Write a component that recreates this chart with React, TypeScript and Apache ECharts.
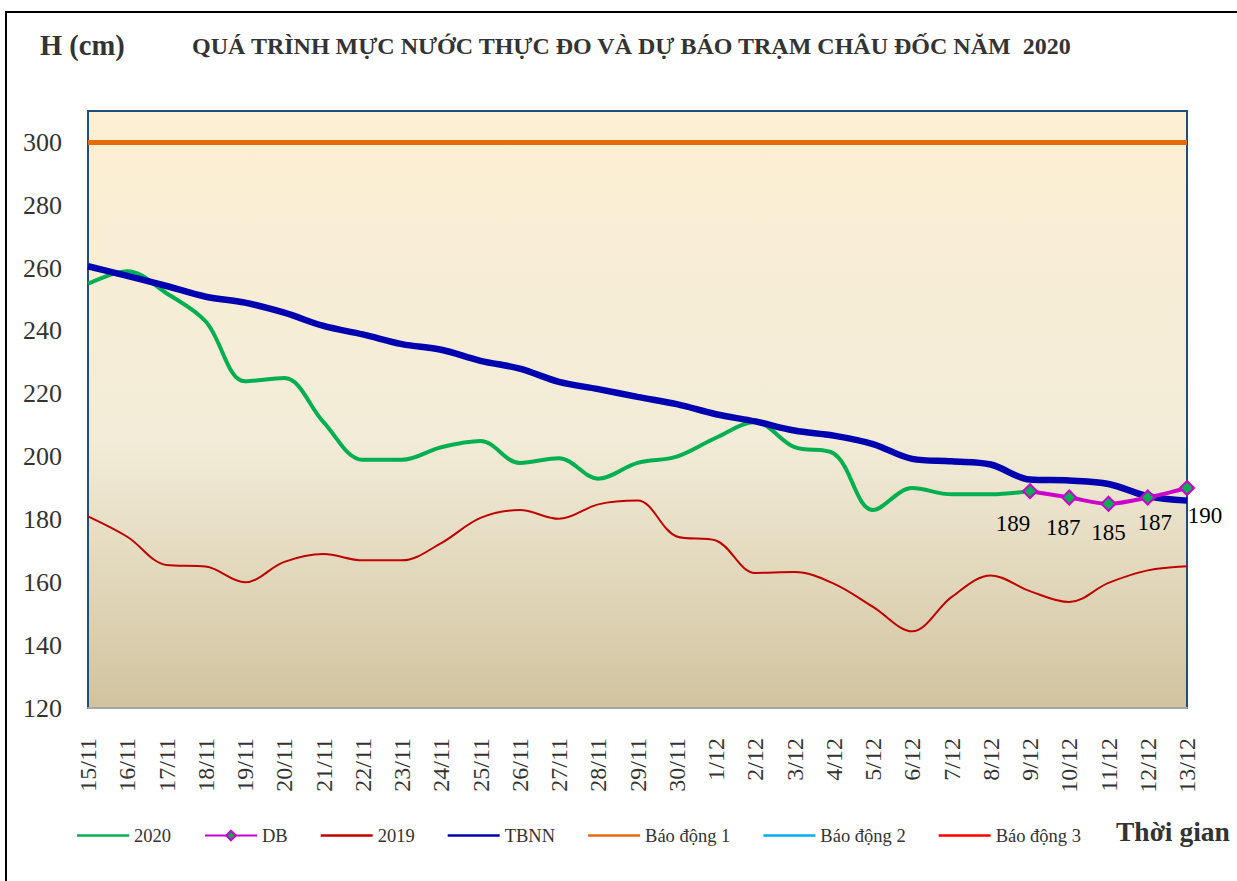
import React, { useEffect, useRef } from "react";
import * as echarts from "echarts";

const categories = [
  "15/11", "16/11", "17/11", "18/11", "19/11", "20/11", "21/11", "22/11", "23/11", "24/11",
  "25/11", "26/11", "27/11", "28/11", "29/11", "30/11", "1/12", "2/12", "3/12", "4/12",
  "5/12", "6/12", "7/12", "8/12", "9/12", "10/12", "11/12", "12/12", "13/12",
];

const y2020 = [
  255, 259, 252, 243, 224, 225, 211, 199, 199, 203,
  205, 198, 199.5, 193, 198, 200, 206, 211, 203, 201,
  183, 190, 188, 188, 189,
];

const dbForecast = [189, 187, 185, 187, 190];
const dbStartIndex = 24;

const y2019 = [
  181, 174.5, 165.5, 165, 160, 166.5, 169, 167, 167, 172.5,
  180.5, 183, 180.2, 184.8, 186, 174.6, 173.3, 163, 163.3, 159.6,
  152.2, 144.4, 155.3, 162.2, 157.2, 153.7, 159.8, 163.8, 165.1,
];

const tbnn = [
  260.6, 257.5, 254.3, 250.9, 249, 245.8, 241.6, 238.9, 235.8, 234,
  230.5, 228, 223.8, 221.5, 219, 216.7, 213.5, 211.2, 208.3, 206.7,
  204, 199.3, 198.5, 197.5, 192.7, 192.4, 191.3, 187.4, 186,
];

const alarm1 = 300;

const legendNames = ["2020", "DB", "2019", "TBNN", "Báo động 1", "Báo động 2", "Báo động 3"];

const dbLabelOffsets = [
  [-17, 32],
  [-6, 30],
  [0, 29],
  [7, 25],
  [18, 27],
];

const FONT = "'Liberation Serif', 'Times New Roman', serif";
const LINE_ICON = "path://M0,0H52V2.5H0Z";

export default function App() {
  const ref = useRef<HTMLDivElement>(null);

  useEffect(() => {
    if (!ref.current) return;
    const chart = echarts.init(ref.current, undefined, { renderer: "svg" });

    const dbData = categories.map((_, i) => {
      const k = i - dbStartIndex;
      if (k < 0 || k >= dbForecast.length) return null;
      return {
        value: dbForecast[k],
        label: {
          show: true,
          position: "inside",
          offset: dbLabelOffsets[k],
          formatter: String(dbForecast[k]),
          color: "#000",
          fontSize: 23,
          fontFamily: FONT,
        },
      };
    });

    chart.setOption({
      animation: false,
      backgroundColor: "#ffffff",
      textStyle: { fontFamily: FONT },
      graphic: [
        {
          type: "rect",
          shape: { x: 6, y: 12, width: 1300, height: 1000 },
          style: { fill: "none", stroke: "#000", lineWidth: 2 },
          z: -10,
          silent: true,
        },
        {
          type: "text",
          x: 40,
          y: 31,
          style: {
            text: "H (cm)",
            fontFamily: FONT,
            fontWeight: "bold",
            fontSize: 28.5,
            fill: "#333333",
          },
        },
        {
          type: "text",
          x: 192,
          y: 34,
          style: {
            text: "QUÁ TRÌNH MỰC NƯỚC THỰC ĐO VÀ DỰ BÁO TRẠM CHÂU ĐỐC NĂM  2020",
            fontFamily: FONT,
            fontWeight: "bold",
            fontSize: 24,
            fill: "#333333",
          },
        },
        {
          type: "text",
          x: 1116,
          y: 817,
          style: {
            text: "Thời gian",
            fontFamily: FONT,
            fontWeight: "bold",
            fontSize: 27.5,
            fill: "#333333",
          },
        },
      ],
      legend: {
        left: 72,
        top: 821,
        itemWidth: 52,
        itemHeight: 12,
        itemGap: 33,
        textStyle: { fontFamily: FONT, fontSize: 18.5, color: "#333333" },
        data: legendNames.map((n) => (n === "DB" ? { name: n } : { name: n, icon: LINE_ICON })),
      },
      grid: {
        left: 88,
        right: 50,
        top: 111,
        bottom: 173,
        show: true,
        borderColor: "#1F4E79",
        borderWidth: 2,
        backgroundColor: new echarts.graphic.LinearGradient(0, 0, 0, 1, [
          { offset: 0, color: "#FDEFD3" },
          { offset: 0.55, color: "#F2ECD8" },
          { offset: 1, color: "#D1C39F" },
        ]),
      },
      xAxis: {
        type: "category",
        boundaryGap: false,
        data: categories,
        axisLine: { lineStyle: { color: "#A6A6A6", width: 2 } },
        axisTick: { show: false },
        axisLabel: {
          interval: 0,
          rotate: 90,
          margin: 30,
          fontFamily: FONT,
          fontSize: 24,
          color: "#333333",
        },
        splitLine: { show: false },
      },
      yAxis: {
        type: "value",
        min: 120,
        max: 310,
        interval: 20,
        axisLine: { show: true, lineStyle: { color: "#1F4E79", width: 2 } },
        axisTick: { show: false },
        splitLine: { show: false },
        axisLabel: {
          margin: 26,
          fontFamily: FONT,
          fontSize: 26,
          color: "#333333",
          formatter: (v: number) => (v === 310 ? "" : String(v)),
        },
      },
      series: [
        {
          name: "2020",
          type: "line",
          data: y2020,
          smooth: 0.35,
          symbol: "none",
          lineStyle: { color: "#00B050", width: 4 },
          itemStyle: { color: "#00B050" },
          z: 3,
        },
        {
          name: "DB",
          type: "line",
          data: dbData,
          smooth: 0.3,
          symbol: "diamond",
          symbolSize: 14,
          showAllSymbol: true,
          lineStyle: { color: "#CC00CC", width: 4 },
          itemStyle: { color: "#00B050", borderColor: "#CC00CC", borderWidth: 2 },
          z: 5,
        },
        {
          name: "2019",
          type: "line",
          data: y2019,
          smooth: 0.35,
          symbol: "none",
          lineStyle: { color: "#C00000", width: 2 },
          itemStyle: { color: "#C00000" },
          z: 2,
        },
        {
          name: "TBNN",
          type: "line",
          data: tbnn,
          smooth: 0.35,
          symbol: "none",
          lineStyle: { color: "#0000B0", width: 6.5 },
          itemStyle: { color: "#0000B0" },
          z: 4,
        },
        {
          name: "Báo động 1",
          type: "line",
          data: categories.map(() => alarm1),
          symbol: "none",
          lineStyle: { color: "#E46C0A", width: 5 },
          itemStyle: { color: "#E46C0A" },
          z: 2,
        },
        {
          name: "Báo động 2",
          type: "line",
          data: [],
          symbol: "none",
          lineStyle: { color: "#00B0F0", width: 2 },
          itemStyle: { color: "#00B0F0" },
        },
        {
          name: "Báo động 3",
          type: "line",
          data: [],
          symbol: "none",
          lineStyle: { color: "#FF0000", width: 2 },
          itemStyle: { color: "#FF0000" },
        },
      ],
    });

    return () => chart.dispose();
  }, []);

  return (
    <div
      ref={ref}
      style={{ position: "fixed", left: 0, top: 0, width: 1237, height: 881 }}
    />
  );
}
